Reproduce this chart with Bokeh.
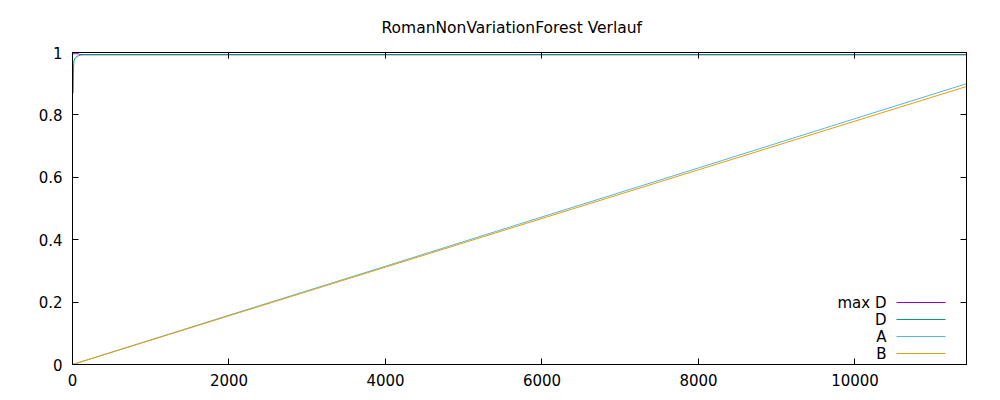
from bokeh.plotting import figure
from bokeh.models import Range1d, FixedTicker, LinearAxis, Label, Arrow, CustomJSTickFormatter
from bokeh.embed import file_html
from bokeh.resources import INLINE

# ---- data ----
maxd_x = [0, 80, 90, 11425]
maxd_y = [0.996, 0.996, 0.993, 0.993]

d_x = [0, 8, 12, 20, 30, 45, 60, 80, 100, 130, 11425]
d_y = [0.87, 0.87, 0.95, 0.975, 0.98, 0.985, 0.988, 0.99, 0.992, 0.993, 0.993]

a_x = [0, 2000, 4000, 6000, 8000, 10000, 11425]
a_y = [0.0, 0.158, 0.315, 0.473, 0.630, 0.788, 0.900]

b_x = [0, 2000, 4000, 6000, 8000, 10000, 11425]
b_y = [0.0, 0.156, 0.312, 0.468, 0.624, 0.780, 0.891]

x_ticks = [0, 2000, 4000, 6000, 8000, 10000]
y_ticks = [0, 0.2, 0.4, 0.6, 0.8, 1]
y_labels = {0: "0", 0.2: "0.2", 0.4: "0.4", 0.6: "0.6", 0.8: "0.8", 1: "1"}

series_names = ["max D", "D", "A", "B"]
colors = ["#9400d3", "#009e73", "#56b4e9", "#e69f00"]

FONT = "DejaVu Sans"

p = figure(width=992, height=392, output_backend="svg", toolbar_location=None,
           x_range=Range1d(0, 11425), y_range=Range1d(0, 1),
           min_border_left=72, min_border_right=26, min_border_top=52, min_border_bottom=28,
           title="RomanNonVariationForest Verlauf")

p.title.align = "left"
p.title.offset = 309
p.title.text_font = FONT
p.title.text_font_size = "15.5px"
p.title.text_font_style = "normal"
p.title.text_color = "#000000"
p.title.standoff = 31

p.grid.visible = False
p.outline_line_color = "black"
p.outline_line_width = 1
p.background_fill_color = "white"
p.border_fill_color = "white"

for ax in [p.xaxis[0], p.yaxis[0]]:
    ax.major_label_text_font = FONT
    ax.major_label_text_font_size = "15px"
    ax.major_label_text_color = "black"
    ax.major_tick_in = 6
    ax.major_tick_out = 0
    ax.minor_tick_in = 0
    ax.minor_tick_out = 0
    ax.axis_line_color = "black"
    ax.major_tick_line_color = "black"
    ax.major_label_standoff = 9

p.xaxis[0].ticker = FixedTicker(ticks=x_ticks)
p.yaxis[0].ticker = FixedTicker(ticks=y_ticks)
p.yaxis[0].major_label_overrides = y_labels
p.yaxis[0].major_label_standoff = 10

# mirrored ticks on right and top (no labels)
blank = CustomJSTickFormatter(code="return ''")
rax = LinearAxis(ticker=FixedTicker(ticks=y_ticks), major_tick_in=6, major_tick_out=0,
                 minor_tick_in=0, minor_tick_out=0, formatter=blank,
                 axis_line_color="black", major_tick_line_color="black")
tax = LinearAxis(ticker=FixedTicker(ticks=x_ticks), major_tick_in=6, major_tick_out=0,
                 minor_tick_in=0, minor_tick_out=0, formatter=blank,
                 axis_line_color="black", major_tick_line_color="black")
p.add_layout(rax, "right")
p.add_layout(tax, "above")

xs = [maxd_x, d_x, a_x, b_x]
ys = [maxd_y, d_y, a_y, b_y]
for x, y, c in zip(xs, ys, colors):
    p.line(x, y, line_color=c, line_width=1)

# gnuplot-style legend: text then line sample, bottom right inside
text_right = 814
line_x0, line_x1 = 824, 873
row_y = [62, 45, 28, 11]
for name, c, yy in zip(series_names, colors, row_y):
    p.add_layout(Label(x=text_right, y=yy, x_units="screen", y_units="screen", text=name,
                       text_font=FONT, text_font_size="15px", text_align="right",
                       text_baseline="middle", text_color="black"))
    p.add_layout(Arrow(end=None, x_start=line_x0, y_start=yy, x_end=line_x1, y_end=yy,
                       start_units="screen", end_units="screen", line_color=c, line_width=1))

open("out.html", "w").write(file_html(p, INLINE))
